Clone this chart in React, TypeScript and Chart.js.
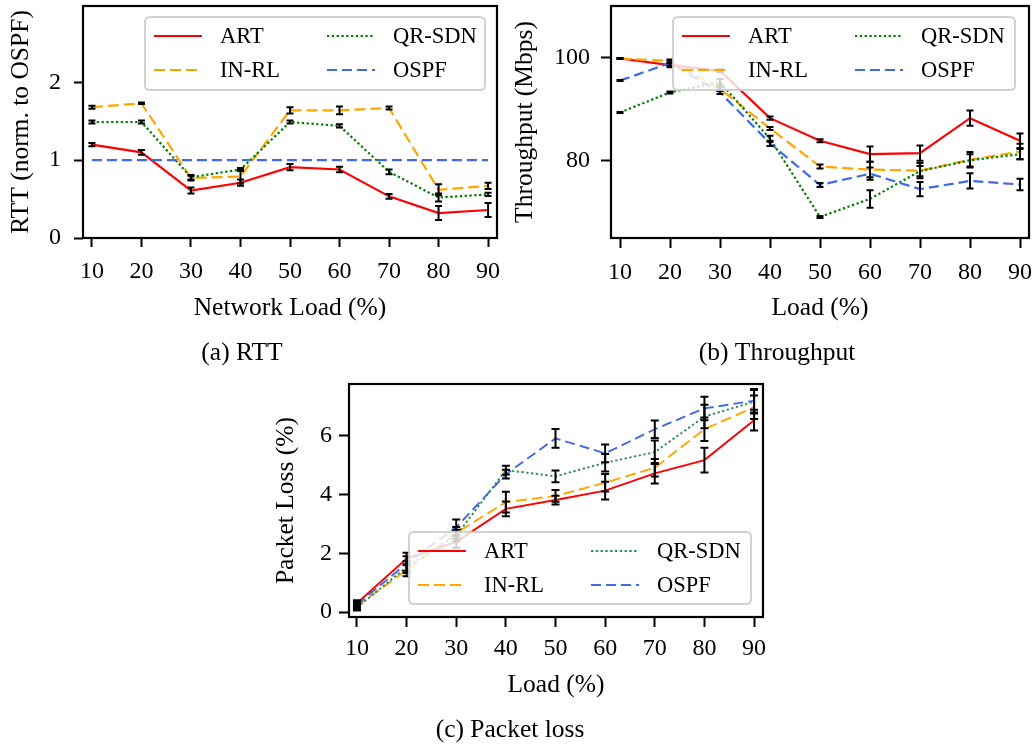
import React, { useEffect, useRef } from 'react';
import { Chart, registerables } from 'chart.js';
Chart.register(...registerables);

// ---------- data ----------
const LOADS = [10, 20, 30, 40, 50, 60, 70, 80, 90];
const X_TICKS = [10, 20, 30, 40, 50, 60, 70, 80, 90];
const SERIES_NAMES = ['ART', 'IN-RL', 'QR-SDN', 'OSPF'];

// (a) RTT normalised to OSPF
const RTT_ART = [1.2, 1.1, 0.61, 0.71, 0.91, 0.88, 0.535, 0.32, 0.36];
const RTT_ART_ERR = [0.02, 0.03, 0.04, 0.04, 0.04, 0.035, 0.03, 0.09, 0.09];
const RTT_INRL = [1.68, 1.73, 0.77, 0.79, 1.64, 1.64, 1.67, 0.62, 0.67];
const RTT_INRL_ERR = [0.02, 0.01, 0.03, 0.09, 0.04, 0.05, 0.02, 0.07, 0.04];
const RTT_QRSDN = [1.49, 1.49, 0.78, 0.88, 1.49, 1.44, 0.85, 0.52, 0.56];
const RTT_QRSDN_ERR = [0.02, 0.02, 0.03, 0.02, 0.02, 0.02, 0.03, 0.05, 0.02];
const RTT_OSPF = [1, 1, 1, 1, 1, 1, 1, 1, 1];
const RTT_Y_TICKS = [0, 1, 2];

// (b) Throughput (Mbps)
const TP_ART = [99.9, 98.6, 97.5, 88.3, 83.9, 81.3, 81.5, 88.3, 83.9];
const TP_ART_ERR = [0.1, 0.4, 0.3, 0.3, 0.3, 1.5, 1.5, 1.5, 1.4];
const TP_INRL = [99.9, 99.4, 94.0, 86.3, 78.9, 78.3, 78.1, 80.2, 81.8];
const TP_INRL_ERR = [0.1, 0.3, 0.3, 0.3, 0.4, 1.5, 1.5, 1.5, 1.5];
const TP_QRSDN = [89.4, 93.3, 95.3, 84.3, 69.1, 72.6, 78.0, 80.1, 81.3];
const TP_QRSDN_ERR = [0.1, 0.2, 0.6, 0.6, 0.2, 1.7, 1.0, 1.2, 1.0];
const TP_OSPF = [95.6, 99.0, 93.3, 83.4, 75.3, 77.5, 74.5, 76.1, 75.4];
const TP_OSPF_ERR = [0.1, 0.5, 0.3, 0.5, 0.4, 1.2, 1.4, 1.5, 1.1];
const TP_Y_TICKS = [80, 100];

// (c) Packet loss (%)
const PL_ART = [0.3, 1.82, 2.39, 3.51, 3.81, 4.13, 4.72, 5.17, 6.53];
const PL_ART_ERR = [0.1, 0.2, 0.2, 0.25, 0.15, 0.3, 0.35, 0.42, 0.35];
const PL_INRL = [0.2, 1.42, 2.69, 3.74, 3.95, 4.4, 4.91, 6.22, 6.97];
const PL_INRL_ERR = [0.1, 0.2, 0.2, 0.35, 0.2, 0.3, 0.3, 0.4, 0.4];
const PL_QRSDN = [0.15, 1.53, 2.6, 4.83, 4.62, 5.08, 5.44, 6.65, 7.16];
const PL_QRSDN_ERR = [0.1, 0.2, 0.2, 0.15, 0.2, 0.3, 0.4, 0.4, 0.4];
const PL_OSPF = [0.25, 1.65, 2.88, 4.69, 5.91, 5.4, 6.22, 6.93, 7.19];
const PL_OSPF_ERR = [0.1, 0.25, 0.27, 0.15, 0.32, 0.3, 0.3, 0.4, 0.4];
const PL_Y_TICKS = [0, 2, 4, 6];

// ---------- styles ----------
const FONT = '"Liberation Serif", "Times New Roman", serif';
const COLORS = ['#ff0000', '#ffa500', '#008000', '#4169e1'];
const COLORS_C = ['#ff0000', '#ffa500', '#2e8b57', '#4169e1'];
const DASHES = [[], [11, 5], [2.3, 2.5], [10, 5]];
const W = 1035;
const H = 747;

type Panel = {
  series: number[][];
  errors: (number[] | null)[];
  colors: string[];
  lineWidth: number;
  area: { left: number; top: number; right: number; bottom: number };
  xMin: number; xMax: number; yMin: number; yMax: number;
  yTicks: number[];
  tickLen: number; xPad: number; yPad: number;
  xTitle: string; xTitleY: number;
  yTitle: string; yTitleX: number;
  caption: string; captionX: number; captionY: number;
  legend: { left: number; top: number; width: number; height: number };
  cap: number;
};

const PANELS: Panel[] = [
  {
    series: [RTT_ART, RTT_INRL, RTT_QRSDN, RTT_OSPF],
    errors: [RTT_ART_ERR, RTT_INRL_ERR, RTT_QRSDN_ERR, null],
    colors: COLORS, lineWidth: 2.2,
    area: { left: 83, top: 6, right: 497, bottom: 238 },
    xMin: 8.2, xMax: 91.8, yMin: 0, yMax: 2.98, yTicks: RTT_Y_TICKS,
    tickLen: 9, xPad: 10, yPad: 13,
    xTitle: 'Network Load (%)', xTitleY: 308,
    yTitle: 'RTT (norm. to OSPF)', yTitleX: 21,
    caption: '(a) RTT', captionX: 242, captionY: 353,
    legend: { left: 145, top: 17, width: 340, height: 73 },
    cap: 7,
  },
  {
    series: [TP_ART, TP_INRL, TP_QRSDN, TP_OSPF],
    errors: [TP_ART_ERR, TP_INRL_ERR, TP_QRSDN_ERR, TP_OSPF_ERR],
    colors: COLORS, lineWidth: 2.2,
    area: { left: 611, top: 6, right: 1029, bottom: 238 },
    xMin: 8.2, xMax: 91.8, yMin: 65.0, yMax: 110.1, yTicks: TP_Y_TICKS,
    tickLen: 10, xPad: 10, yPad: 11,
    xTitle: 'Load (%)', xTitleY: 308,
    yTitle: 'Throughput (Mbps)', yTitleX: 525,
    caption: '(b) Throughput', captionX: 777, captionY: 353,
    legend: { left: 673, top: 17, width: 342, height: 73 },
    cap: 7,
  },
  {
    series: [PL_ART, PL_INRL, PL_QRSDN, PL_OSPF],
    errors: [PL_ART_ERR, PL_INRL_ERR, PL_QRSDN_ERR, PL_OSPF_ERR],
    colors: COLORS_C, lineWidth: 1.9,
    area: { left: 349, top: 384, right: 763, bottom: 617 },
    xMin: 8.4, xMax: 91.8, yMin: -0.17, yMax: 7.76, yTicks: PL_Y_TICKS,
    tickLen: 10, xPad: 7, yPad: 7,
    xTitle: 'Load (%)', xTitleY: 685,
    yTitle: 'Packet Loss (%)', yTitleX: 286,
    caption: '(c) Packet loss', captionX: 510, captionY: 730,
    legend: { left: 409, top: 532, width: 342, height: 72 },
    cap: 8,
  },
];

const errorBarPlugin = {
  id: 'errbars',
  afterDatasetsDraw(chart: any) {
    const p: Panel = chart.options.plugins.errbars.panel;
    const ctx = chart.ctx;
    const xs = chart.scales.x;
    const ys = chart.scales.y;
    const a = chart.chartArea;
    ctx.save();
    ctx.beginPath();
    ctx.rect(a.left, a.top, a.right - a.left, a.bottom - a.top);
    ctx.clip();
    ctx.strokeStyle = '#000';
    ctx.lineWidth = 2;
    ctx.setLineDash([]);
    p.series.forEach((vals, si) => {
      const errs = p.errors[si];
      if (!errs) return;
      vals.forEach((v, i) => {
        const x = xs.getPixelForValue(LOADS[i]);
        const y1 = ys.getPixelForValue(v - errs[i]);
        const y2 = ys.getPixelForValue(v + errs[i]);
        ctx.beginPath();
        ctx.moveTo(x, y1);
        ctx.lineTo(x, y2);
        ctx.moveTo(x - p.cap / 2, y1);
        ctx.lineTo(x + p.cap / 2, y1);
        ctx.moveTo(x - p.cap / 2, y2);
        ctx.lineTo(x + p.cap / 2, y2);
        ctx.stroke();
      });
    });
    ctx.restore();
  },
};

function roundRect(ctx: CanvasRenderingContext2D, x: number, y: number, w: number, h: number, r: number) {
  ctx.beginPath();
  ctx.moveTo(x + r, y);
  ctx.lineTo(x + w - r, y);
  ctx.quadraticCurveTo(x + w, y, x + w, y + r);
  ctx.lineTo(x + w, y + h - r);
  ctx.quadraticCurveTo(x + w, y + h, x + w - r, y + h);
  ctx.lineTo(x + r, y + h);
  ctx.quadraticCurveTo(x, y + h, x, y + h - r);
  ctx.lineTo(x, y + r);
  ctx.quadraticCurveTo(x, y, x + r, y);
  ctx.closePath();
}

const decorPlugin = {
  id: 'decor',
  afterDraw(chart: any) {
    const p: Panel = chart.options.plugins.decor.panel;
    const ctx: CanvasRenderingContext2D = chart.ctx;
    const a = chart.chartArea;
    ctx.save();
    // legend
    const L = p.legend;
    roundRect(ctx, L.left, L.top, L.width, L.height, 5);
    ctx.fillStyle = 'rgba(255,255,255,0.8)';
    ctx.fill();
    ctx.strokeStyle = 'rgba(204,204,204,0.9)';
    ctx.lineWidth = 2;
    ctx.stroke();
    ctx.font = `22.5px ${FONT}`;
    ctx.textBaseline = 'middle';
    ctx.textAlign = 'left';
    [0, 2, 1, 3].forEach((si) => {
      const col = si === 0 || si === 1 ? 0 : 1;
      const row = si === 0 || si === 2 ? 0 : 1;
      const hx = L.left + 9 + col * 173;
      const ty = L.top + 19 + row * 34;
      ctx.beginPath();
      ctx.strokeStyle = p.colors[si];
      ctx.lineWidth = p.lineWidth;
      ctx.setLineDash(DASHES[si]);
      ctx.moveTo(hx, ty);
      ctx.lineTo(hx + 48, ty);
      ctx.stroke();
      ctx.setLineDash([]);
      ctx.fillStyle = '#000';
      ctx.fillText(SERIES_NAMES[si], hx + 66, ty + 1);
    });
    // frame
    ctx.strokeStyle = '#000';
    ctx.lineWidth = 2.2;
    ctx.setLineDash([]);
    ctx.strokeRect(a.left, a.top, a.right - a.left, a.bottom - a.top);
    // titles
    ctx.fillStyle = '#000';
    ctx.font = `25.5px ${FONT}`;
    ctx.textAlign = 'center';
    ctx.textBaseline = 'middle';
    ctx.fillText(p.xTitle, (a.left + a.right) / 2, p.xTitleY);
    ctx.fillText(p.caption, p.captionX, p.captionY);
    ctx.save();
    ctx.translate(p.yTitleX, (a.top + a.bottom) / 2);
    ctx.rotate(-Math.PI / 2);
    ctx.fillText(p.yTitle, 0, 0);
    ctx.restore();
    ctx.restore();
  },
};

function makeConfig(p: Panel): any {
  const Y_W = 70;
  const X_H = 60;
  return {
    type: 'line',
    data: {
      datasets: p.series.map((vals, si) => ({
        label: SERIES_NAMES[si],
        data: LOADS.map((x, i) => ({ x, y: vals[i] })),
        borderColor: p.colors[si],
        backgroundColor: p.colors[si],
        borderWidth: p.lineWidth,
        borderDash: DASHES[si],
        pointRadius: 0,
        tension: 0,
        fill: false,
        order: 3 - si,
      })),
    },
    options: {
      animation: false,
      responsive: false,
      devicePixelRatio: 1,
      events: [],
      layout: {
        padding: {
          left: p.area.left - Y_W,
          top: p.area.top,
          right: W - p.area.right,
          bottom: H - p.area.bottom - X_H,
        },
      },
      scales: {
        x: {
          type: 'linear',
          min: p.xMin,
          max: p.xMax,
          afterFit: (s: any) => { s.height = X_H; s.paddingLeft = 0; s.paddingRight = 0; s.paddingTop = 0; s.paddingBottom = 0; },
          afterBuildTicks: (s: any) => { s.ticks = X_TICKS.map((v) => ({ value: v })); },
          grid: { display: true, drawOnChartArea: false, drawTicks: true, tickLength: p.tickLen, tickWidth: 2, tickColor: '#000' },
          border: { display: false },
          ticks: { color: '#000', font: { family: FONT, size: 24 }, padding: p.xPad, maxRotation: 0, autoSkip: false },
        },
        y: {
          type: 'linear',
          min: p.yMin,
          max: p.yMax,
          afterFit: (s: any) => { s.width = Y_W; s.paddingLeft = 0; s.paddingRight = 0; s.paddingTop = 0; s.paddingBottom = 0; },
          afterBuildTicks: (s: any) => { s.ticks = p.yTicks.map((v) => ({ value: v })); },
          grid: { display: true, drawOnChartArea: false, drawTicks: true, tickLength: p.tickLen, tickWidth: 2, tickColor: '#000' },
          border: { display: false },
          ticks: { color: '#000', font: { family: FONT, size: 24 }, padding: p.yPad, autoSkip: false },
        },
      },
      plugins: {
        legend: { display: false },
        tooltip: { enabled: false },
        errbars: { panel: p },
        decor: { panel: p },
      },
    },
    plugins: [errorBarPlugin, decorPlugin],
  };
}

function PanelCanvas({ panel }: { panel: Panel }) {
  const ref = useRef<HTMLCanvasElement | null>(null);
  useEffect(() => {
    if (!ref.current) return;
    const chart = new Chart(ref.current, makeConfig(panel));
    return () => chart.destroy();
  }, [panel]);
  return (
    <canvas
      ref={ref}
      width={W}
      height={H}
      style={{ position: 'absolute', left: 0, top: 0, width: W, height: H }}
    />
  );
}

export default function App() {
  return (
    <div style={{ position: 'fixed', left: 0, top: 0, width: W, height: H, background: '#fff', overflow: 'hidden' }}>
      {PANELS.map((p, i) => (
        <PanelCanvas key={i} panel={p} />
      ))}
    </div>
  );
}
